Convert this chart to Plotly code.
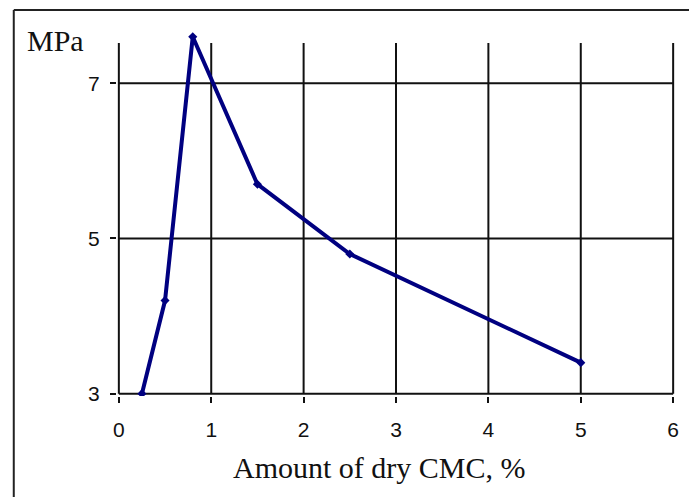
import plotly.graph_objects as go

cmc_amount = [0.25, 0.5, 0.8, 1.5, 2.5, 5.0]
strength_mpa = [3.0, 4.2, 7.6, 5.7, 4.8, 3.4]
x_ticks = [0, 1, 2, 3, 4, 5, 6]
y_ticks = [3, 5, 7]

X0, X1 = -0.02, 6.02
Y0, Y1 = 2.97, 7.7
GRID_TOP = 7.52

fig = go.Figure()
fig.add_trace(go.Scatter(
    x=cmc_amount, y=strength_mpa, mode="lines+markers",
    line=dict(color="#000080", width=4),
    marker=dict(symbol="diamond", size=7, color="#000080"),
    showlegend=False, hoverinfo="skip",
))

shapes = []
for xv in x_ticks:
    shapes.append(dict(type="line", xref="x", yref="y", x0=xv, x1=xv, y0=3, y1=GRID_TOP,
                       line=dict(color="#111111", width=2), layer="below"))
for yv in y_ticks:
    shapes.append(dict(type="line", xref="x", yref="y", x0=0, x1=6, y0=yv, y1=yv,
                       line=dict(color="#111111", width=2), layer="below"))
# outer chart frame (left and top edges visible)
shapes.append(dict(type="line", xref="paper", yref="paper", x0=-0.185, x1=-0.185, y0=-0.4, y1=1.052,
                   line=dict(color="#222222", width=2), layer="below"))
shapes.append(dict(type="line", xref="paper", yref="paper", x0=-0.185, x1=1.2, y0=1.052, y1=1.052,
                   line=dict(color="#222222", width=2), layer="below"))

fig.update_layout(
    width=689, height=497,
    margin=dict(l=117, r=10, t=29, b=101),
    paper_bgcolor="white", plot_bgcolor="white",
    shapes=shapes,
    hovermode=False,
    xaxis=dict(range=[X0, X1], tickvals=x_ticks, showgrid=False, zeroline=False, showline=False,
               ticks="outside", ticklen=6, tickwidth=2, tickcolor="#111111",
               ticklabelstandoff=9,
               tickfont=dict(family="Liberation Sans", size=21, color="#111111")),
    yaxis=dict(range=[Y0, Y1], tickvals=y_ticks, showgrid=False, zeroline=False, showline=False,
               ticks="outside", ticklen=6, tickwidth=2, tickcolor="#111111",
               ticklabelstandoff=6,
               tickfont=dict(family="Liberation Sans", size=21, color="#111111")),
    annotations=[
        dict(text="MPa", xref="paper", yref="paper", x=-0.110, y=0.970, showarrow=False,
             xanchor="center", yanchor="middle",
             font=dict(family="Liberation Serif", size=30, color="#111111")),
        dict(text="Amount of dry CMC, %", xref="paper", yref="paper", x=0.470, y=-0.195,
             showarrow=False, xanchor="center", yanchor="middle",
             font=dict(family="Liberation Serif", size=30, color="#111111")),
    ],
)

fig.write_html(
    "out.html",
    config={"displayModeBar": False, "staticPlot": True},
    post_script="document.body.style.margin='0';document.body.style.overflow='hidden';",
)
